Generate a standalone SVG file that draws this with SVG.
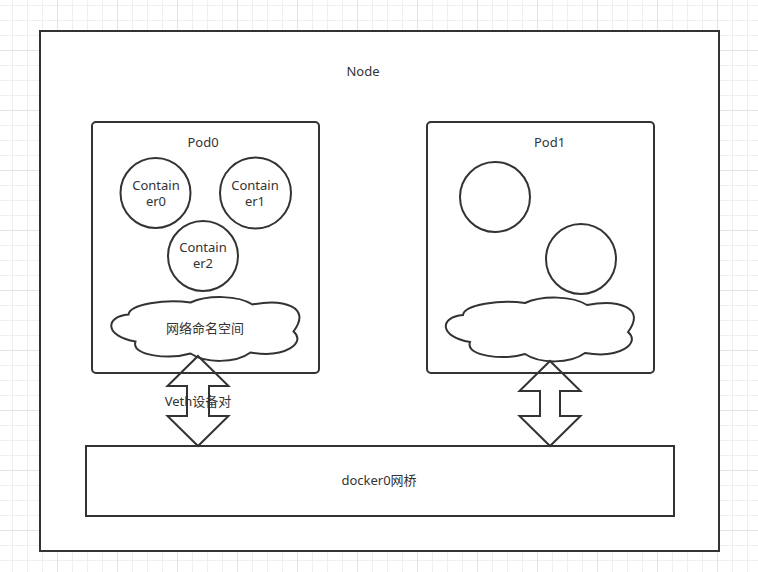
<svg xmlns="http://www.w3.org/2000/svg" width="758" height="572" viewBox="0 0 758 572">
  <defs>
    <pattern id="grid" patternUnits="userSpaceOnUse" x="12" y="5" width="60" height="60">
      <path d="M0.5,0V60M15.5,0V60M30.5,0V60M0,0.5H60M0,15.5H60M0,30.5H60" stroke="#efefef" stroke-width="1" fill="none"/>
      <path d="M45.5,0V60M0,45.5H60" stroke="#e4e4e4" stroke-width="1" fill="none"/>
    </pattern>
    <path id="cloud" d="M18,18 C19,8 55,2 80,6 C98,-2 128,-1 142,8 C172,2 202,10 183,35 C196,46 175,62 140,56 C125,67 95,67 80,57 C60,63 20,60 25,45 C-6,40 -6,20 18,18 Z"/>
  </defs>
  <style>
    .box { fill: #ffffff; stroke: #333333; stroke-width: 2; }
    .arrow { fill: none; stroke: #333333; stroke-width: 2; stroke-linejoin: miter; }
    .lbl { font-family: "Noto Sans", "Noto Sans CJK SC", sans-serif; font-size: 13px; fill: #333333; text-anchor: middle; }
  </style>
  <rect width="758" height="572" fill="#ffffff"/>
  <rect width="758" height="572" fill="url(#grid)"/>

  <g id="node">
    <rect class="box" x="40" y="31" width="679" height="520"/>
    <text class="lbl" x="363" y="76">Node</text>
  </g>

  <g id="pod0">
    <rect class="box" x="92" y="122" width="227" height="251" rx="4" ry="4"/>
    <text class="lbl" x="203" y="147">Pod0</text>
  </g>
  <g id="container0">
    <circle class="box" cx="155.5" cy="193" r="35"/>
    <text class="lbl" x="156" y="189.5">Contain</text>
    <text class="lbl" x="156" y="206">er0</text>
  </g>
  <g id="container1">
    <circle class="box" cx="255.5" cy="193" r="35.5"/>
    <text class="lbl" x="255" y="189.5">Contain</text>
    <text class="lbl" x="255" y="206">er1</text>
  </g>
  <g id="container2">
    <circle class="box" cx="203" cy="256" r="35"/>
    <text class="lbl" x="203" y="251.5">Contain</text>
    <text class="lbl" x="203" y="268">er2</text>
  </g>
  <g id="netns0">
    <use href="#cloud" class="box" transform="translate(110.5,296.5)"/>
    <text class="lbl" x="205" y="333">网络命名空间</text>
  </g>

  <g id="pod1">
    <rect class="box" x="427" y="122" width="227" height="251" rx="4" ry="4"/>
    <text class="lbl" x="549.5" y="147">Pod1</text>
  </g>
  <g id="pod1-container-a">
    <circle class="box" cx="495" cy="197" r="35"/>
  </g>
  <g id="pod1-container-b">
    <circle class="box" cx="581" cy="259" r="35"/>
  </g>
  <g id="netns1">
    <use href="#cloud" class="box" transform="translate(445,297)"/>
  </g>

  <g id="bridge">
    <rect class="box" x="86" y="446" width="588" height="70"/>
    <text class="lbl" x="379" y="485">docker0网桥</text>
  </g>

  <g id="connectors">
    <path class="arrow" d="M198,356 L228.5,386 L209,386 L209,416 L228.5,416 L198,446 L167.5,416 L187,416 L187,386 L167.5,386 Z"/>
    <path class="arrow" d="M550,361 L580.5,391 L560,391 L560,416 L580.5,416 L550,446 L519.5,416 L540,416 L540,391 L519.5,391 Z"/>
    <text class="lbl" x="198" y="406">Veth设备对</text>
  </g>
</svg>
